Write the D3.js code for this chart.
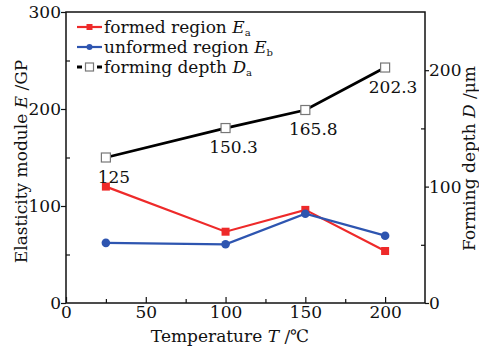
<!DOCTYPE html>
<html>
<head>
<meta charset="utf-8">
<script src="https://cdn.jsdelivr.net/npm/d3@7"></script>
<style>
  body { margin: 0; background: #fff; }
  svg text { font-family: "DejaVu Serif", serif; }
</style>
</head>
<body>
<svg id="chart" width="479" height="349"></svg>
<script>
// data
const temps = [25, 100, 150, 200];
const formedE = [120, 73.5, 96, 53.6];
const unformedE = [62, 60.5, 92, 69.4];
const depth = [125, 150.3, 165.8, 202.3];
const depthLabels = ["125", "150.3", "165.8", "202.3"];

const xTicks = [0, 50, 100, 150, 200];
const xMinor = [25, 75, 125, 175];
const yTicks = [0, 100, 200, 300];
const yMinor = [50, 150, 250];
const y2Ticks = [0, 100, 200];
const y2Minor = [50, 150];

const FS = 17;

const svg = d3.select("#chart"),
      margin = {top: 12, right: 54, bottom: 46, left: 66},
      width = 479 - margin.left - margin.right,
      height = 349 - margin.top - margin.bottom;

const g = svg.append("g").attr("transform", `translate(${margin.left},${margin.top})`);

const x = d3.scaleLinear().domain([0, 225]).range([0, width]);
const y = d3.scaleLinear().domain([0, 300]).range([height, 0]);
const y2 = d3.scaleLinear().domain([0, 250]).range([height, 0]);

// frame
g.append("rect").attr("width", width).attr("height", height)
  .attr("fill", "none").attr("stroke", "#111").attr("stroke-width", 1.5);

// axes
function styleAxis(sel) {
  sel.select(".domain").remove();
  sel.selectAll("line").attr("stroke", "#111").attr("stroke-width", 1.2);
  sel.selectAll("text").attr("font-size", FS).attr("fill", "#111")
     .attr("font-family", "DejaVu Serif, serif");
}

g.append("g").attr("transform", `translate(0,${height})`)
  .call(d3.axisBottom(x).tickValues(xTicks).tickSize(-6).tickPadding(3).tickFormat(d3.format("d")))
  .call(styleAxis);
g.append("g").attr("transform", `translate(0,${height})`)
  .call(d3.axisBottom(x).tickValues(xMinor).tickSize(-4).tickFormat(""))
  .call(styleAxis);

g.append("g")
  .call(d3.axisLeft(y).tickValues(yTicks).tickSize(5).tickPadding(0))
  .call(styleAxis);
g.append("g")
  .call(d3.axisLeft(y).tickValues(yMinor).tickSize(-4).tickFormat(""))
  .call(styleAxis);

g.append("g").attr("transform", `translate(${width},0)`)
  .call(d3.axisRight(y2).tickValues(y2Ticks).tickSize(4).tickPadding(0))
  .call(styleAxis);
g.append("g").attr("transform", `translate(${width},0)`)
  .call(d3.axisRight(y2).tickValues(y2Minor).tickSize(-4).tickFormat(""))
  .call(styleAxis);

// axis titles
const xt = svg.append("text").attr("x", 230).attr("y", 342)
  .attr("text-anchor", "middle").attr("font-size", FS).attr("fill", "#111");
xt.append("tspan").text("Temperature ");
xt.append("tspan").attr("font-style", "italic").text("T");
xt.append("tspan").text(" /\u2103");

const yt = svg.append("text")
  .attr("transform", `translate(27,${margin.top + height / 2 + 4}) rotate(-90)`)
  .attr("text-anchor", "middle").attr("font-size", FS).attr("fill", "#111");
yt.append("tspan").text("Elasticity module ");
yt.append("tspan").attr("font-style", "italic").text("E");
yt.append("tspan").text(" /GP");

const y2t = svg.append("text")
  .attr("transform", `translate(${margin.left + width + 50},${margin.top + height / 2 + 1}) rotate(-90)`)
  .attr("text-anchor", "middle").attr("font-size", FS).attr("fill", "#111");
y2t.append("tspan").text("Forming depth ");
y2t.append("tspan").attr("font-style", "italic").text("D");
y2t.append("tspan").text(" /\u03bcm");

// series
const lineE = d3.line().x((d, i) => x(temps[i])).y(d => y(d));
const lineD = d3.line().x((d, i) => x(temps[i])).y(d => y2(d));

g.append("path").datum(formedE).attr("d", lineE)
  .attr("fill", "none").attr("stroke", "#ee2a2a").attr("stroke-width", 2.2);
g.selectAll(".fm").data(formedE).enter().append("rect")
  .attr("x", (d, i) => x(temps[i]) - 4).attr("y", d => y(d) - 4)
  .attr("width", 8).attr("height", 8).attr("fill", "#ee2a2a");

g.append("path").datum(unformedE).attr("d", lineE)
  .attr("fill", "none").attr("stroke", "#2e55b0").attr("stroke-width", 2.2);
g.selectAll(".um").data(unformedE).enter().append("circle")
  .attr("cx", (d, i) => x(temps[i])).attr("cy", d => y(d))
  .attr("r", 4.3).attr("fill", "#2e55b0");

g.append("path").datum(depth).attr("d", lineD)
  .attr("fill", "none").attr("stroke", "#000").attr("stroke-width", 2.8);
g.selectAll(".dm").data(depth).enter().append("rect")
  .attr("x", (d, i) => x(temps[i]) - 4.5).attr("y", d => y2(d) - 4.5)
  .attr("width", 9).attr("height", 9).attr("fill", "#fff")
  .attr("stroke", "#777").attr("stroke-width", 1.2);

g.selectAll(".dl").data(depth).enter().append("text")
  .attr("x", (d, i) => x(temps[i]) + 8).attr("y", d => y2(d) + 25)
  .attr("text-anchor", "middle").attr("font-size", FS).attr("fill", "#111")
  .text((d, i) => depthLabels[i]);

// legend
const legend = [
  {name: "formed region ", sym: "E", sub: "a", color: "#ee2a2a", type: "square"},
  {name: "unformed region ", sym: "E", sub: "b", color: "#2e55b0", type: "circle"},
  {name: "forming depth ", sym: "D", sub: "a", color: "#000", type: "open"}
];
const lg = svg.append("g").attr("transform", "translate(77,27)");
legend.forEach((l, i) => {
  const row = lg.append("g").attr("transform", `translate(0,${i * 20})`);
  if (l.type === "open") {
    row.append("line").attr("x1", 0).attr("x2", 25).attr("y1", 0).attr("y2", 0)
      .attr("stroke", "#000").attr("stroke-width", 2.8).attr("stroke-dasharray", "5,15");
    row.append("rect").attr("x", 8.5).attr("y", -4).attr("width", 8).attr("height", 8)
      .attr("fill", "#fff").attr("stroke", "#777").attr("stroke-width", 1.2);
  } else {
    row.append("line").attr("x1", 0).attr("x2", 25).attr("y1", 0).attr("y2", 0)
      .attr("stroke", l.color).attr("stroke-width", 2.2);
    if (l.type === "square")
      row.append("rect").attr("x", 9.5).attr("y", -3).attr("width", 6).attr("height", 6).attr("fill", l.color);
    else
      row.append("circle").attr("cx", 12.5).attr("cy", 0).attr("r", 3).attr("fill", l.color);
  }
  const t = row.append("text").attr("x", 27).attr("y", 6).attr("font-size", FS).attr("fill", "#111");
  t.append("tspan").text(l.name);
  t.append("tspan").attr("font-style", "italic").text(l.sym);
  t.append("tspan").attr("font-size", 10).attr("dy", 3).text(l.sub);
});
</script>
</body>
</html>
